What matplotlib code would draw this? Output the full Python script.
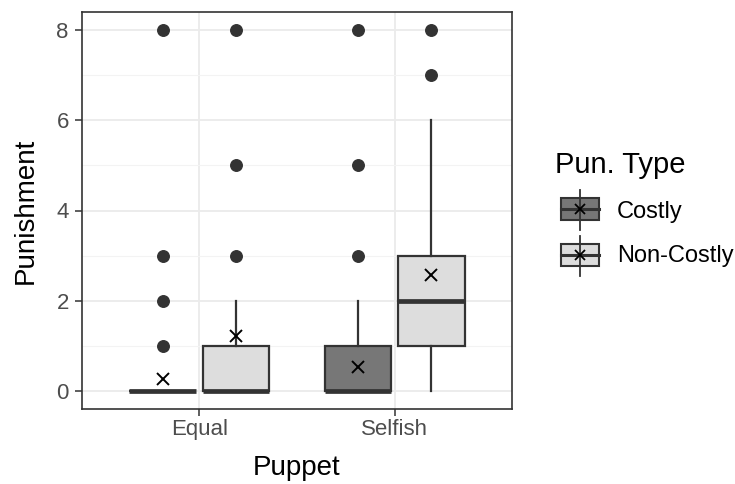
import matplotlib.pyplot as plt
from matplotlib.patches import Rectangle

plt.rcParams['font.family'] = ['Liberation Sans', 'DejaVu Sans']

# data
puppets = ['Equal', 'Selfish']
pun_types = ['Costly', 'Non-Costly']
fills = ['#777777', '#DDDDDD']

q1 = {'Costly': [0, 0], 'Non-Costly': [0, 1]}
med = {'Costly': [0, 0], 'Non-Costly': [0, 2]}
q3 = {'Costly': [0, 1], 'Non-Costly': [1, 3]}
whislo = {'Costly': [0, 0], 'Non-Costly': [0, 0]}
whishi = {'Costly': [0, 2], 'Non-Costly': [2, 6]}
means = {'Costly': [0.26, 0.53], 'Non-Costly': [1.21, 2.58]}
fliers = {'Costly': [[1, 2, 3, 8], [3, 5, 8]],
          'Non-Costly': [[3, 5, 8], [7, 8]]}

yticks = [0, 2, 4, 6, 8]

fig = plt.figure(figsize=(7.35, 4.84), dpi=100)
ax = fig.add_axes([82 / 735, 1 - 409 / 484, 430 / 735, 397 / 484])

edge = '#333333'
offsets = [-0.1875, 0.1875]
for t, (typ, off, fc) in enumerate(zip(pun_types, offsets, fills)):
    stats = []
    for i in range(len(puppets)):
        stats.append(dict(med=med[typ][i], q1=q1[typ][i], q3=q3[typ][i],
                          whislo=whislo[typ][i], whishi=whishi[typ][i],
                          fliers=fliers[typ][i], mean=means[typ][i]))
    pos = [i + 1 + off for i in range(len(puppets))]
    ax.bxp(stats, positions=pos, widths=0.34, patch_artist=True,
           showcaps=False, showmeans=True,
           boxprops=dict(facecolor=fc, edgecolor=edge, linewidth=1.6),
           whiskerprops=dict(color=edge, linewidth=1.6),
           medianprops=dict(color=edge, linewidth=3.4, solid_capstyle='butt'),
           flierprops=dict(marker='o', markerfacecolor=edge, markeredgecolor=edge,
                           markersize=8.3),
           meanprops=dict(marker='x', markeredgecolor='black', markersize=8,
                          markeredgewidth=1.4))

ax.set_xlim(0.4, 2.6)
ax.set_ylim(-0.4, 8.4)
ax.set_xticks([1, 2])
ax.set_xticklabels(puppets)
ax.set_yticks(yticks)
ax.set_yticks([1, 3, 5, 7], minor=True)
ax.grid(True, which='major', color='#EBEBEB', linewidth=1.3)
ax.grid(True, which='minor', axis='y', color='#F3F3F3', linewidth=0.8)
ax.set_axisbelow(True)
ax.tick_params(which='minor', length=0)
ax.tick_params(which='major', length=5, width=1.1, color='#333333',
               labelsize=16, labelcolor='#4D4D4D')
ax.tick_params(axis='x', pad=2.5)
ax.tick_params(axis='y', pad=4.5)
for s in ax.spines.values():
    s.set_color('#333333')
    s.set_linewidth(1.2)
ax.set_xlabel('Puppet', fontsize=20, labelpad=10.5)
ax.set_ylabel('Punishment', fontsize=20, labelpad=12.5)

# legend drawn in pixel space
lg = fig.add_axes([0, 0, 1, 1])
lg.set_xlim(0, 735)
lg.set_ylim(484, 0)
lg.axis('off')
lg.text(555, 173, 'Pun. Type', fontsize=21, va='baseline', ha='left')
key_y = [209, 254.5]
label_base = [218, 262]
for typ, fc, ky, lb in zip(pun_types, fills, key_y, label_base):
    lg.plot([580, 580], [ky - 19, ky + 21], color=edge, lw=1.3)
    lg.add_patch(Rectangle((561, ky - 11), 38, 22, facecolor=fc,
                           edgecolor=edge, lw=1.5))
    lg.plot([561, 599], [ky, ky], color=edge, lw=2.2)
    lg.plot([580], [ky], marker='x', color='black', markersize=6.5, mew=1.3)
    lg.text(617, lb, typ, fontsize=17, va='baseline', ha='left')

fig.savefig('out.png', dpi=100)
